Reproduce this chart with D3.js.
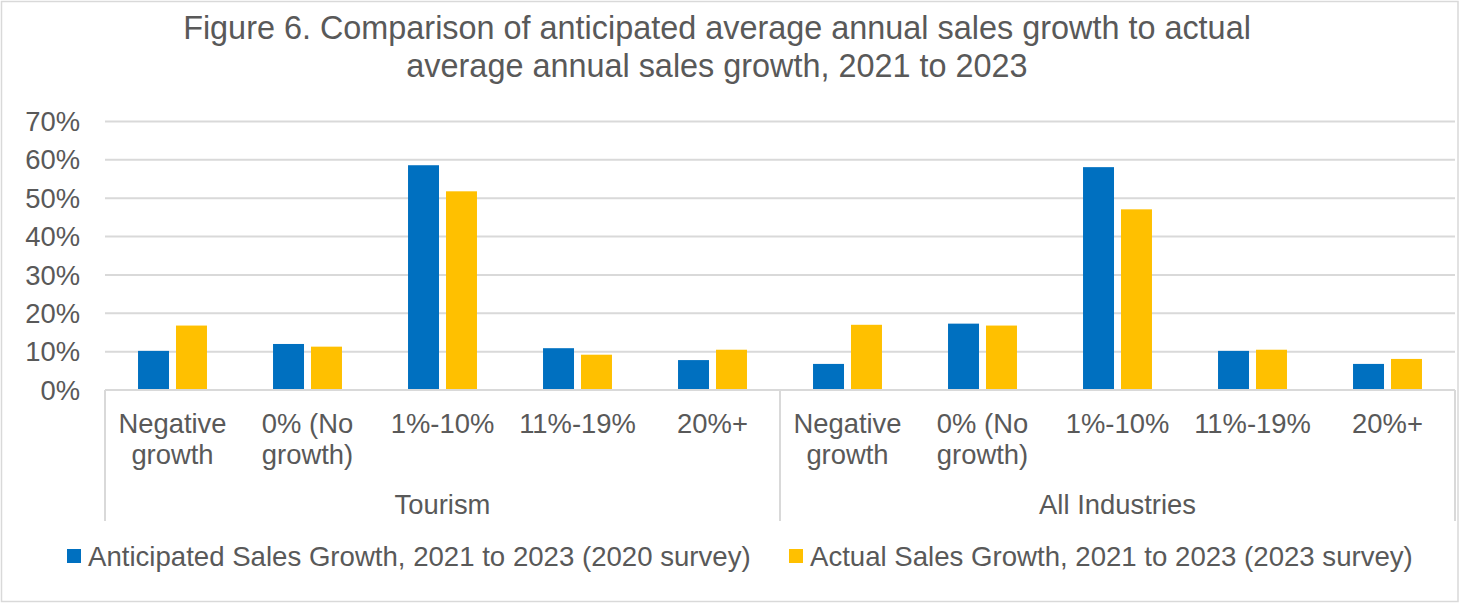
<!DOCTYPE html>
<html>
<head>
<meta charset="utf-8">
<script src="https://cdn.jsdelivr.net/npm/d3@7"></script>
<style>
  html, body { margin: 0; padding: 0; background: #fff; }
  svg { display: block; font-family: "Liberation Sans", Arial, sans-serif; }
</style>
</head>
<body>
<svg id="chart" width="1460" height="603"></svg>
<script>
const title = ["Figure 6. Comparison of anticipated average annual sales growth to actual",
               "average annual sales growth, 2021 to 2023"];
const groups = ["Tourism", "All Industries"];
const categories = ["Negative growth", "0% (No growth)", "1%-10%", "11%-19%", "20%+"];
const categoryLines = [["Negative", "growth"], ["0% (No", "growth)"], ["1%-10%"], ["11%-19%"], ["20%+"]];
const seriesNames = ["Anticipated Sales Growth, 2021 to 2023 (2020 survey)",
                     "Actual Sales Growth, 2021 to 2023 (2023 survey)"];
const anticipatedTourism = [10.2, 12.0, 58.6, 10.9, 7.8];
const actualTourism      = [16.8, 11.3, 51.8, 9.2, 10.5];
const anticipatedAll     = [6.8, 17.3, 58.1, 10.2, 6.8];
const actualAll          = [17.0, 16.8, 47.1, 10.5, 8.1];
const yTicks = [0, 10, 20, 30, 40, 50, 60, 70];
const colors = ["#0070C0", "#FFC000"];

const textColor = "#595959";
const gridColor = "#D9D9D9";

const svg = d3.select("#chart");
const W = 1460, H = 603;
const plot = { left: 105, right: 1455, top: 121.5, bottom: 390 };

// chart border
svg.append("rect").attr("x", 1.5).attr("y", 1.5).attr("width", W - 3.5).attr("height", H - 3)
  .attr("fill", "#fff").attr("stroke", gridColor).attr("stroke-width", 1.5);

// title
svg.append("text").attr("x", 717).attr("y", 39).attr("text-anchor", "middle")
  .attr("font-size", 32.4).attr("fill", textColor)
  .selectAll("tspan").data(title).join("tspan")
  .attr("x", 717).attr("dy", (d, i) => i === 0 ? 0 : 38).text(d => d);

// data rows
const rows = [];
groups.forEach((g, gi) => {
  const a = gi === 0 ? anticipatedTourism : anticipatedAll;
  const b = gi === 0 ? actualTourism : actualAll;
  categories.forEach((c, ci) => {
    rows.push({ key: g + "|" + c, group: g, cat: c, ci, values: [a[ci], b[ci]] });
  });
});

const x0 = d3.scaleBand().domain(rows.map(d => d.key)).range([plot.left, plot.right]).padding(0);
const x1 = d3.scaleBand().domain([0, 1]).range([0, x0.bandwidth()]).paddingInner(0.184).paddingOuter(0.87);
const y = d3.scaleLinear().domain([0, 70]).range([plot.bottom, plot.top]);

// gridlines
svg.append("g").selectAll("line").data(yTicks.filter(t => t > 0)).join("line")
  .attr("x1", plot.left).attr("x2", plot.right)
  .attr("y1", d => y(d)).attr("y2", d => y(d))
  .attr("stroke", gridColor).attr("stroke-width", 2);

// y tick labels
svg.append("g").selectAll("text").data(yTicks).join("text")
  .attr("x", 80).attr("y", d => y(d)).attr("dy", "0.35em")
  .attr("text-anchor", "end").attr("font-size", 27.4).attr("fill", textColor)
  .text(d => d + "%");

// bars
const bars = svg.append("g");
rows.forEach(r => {
  bars.selectAll(null).data(r.values).join("rect")
    .attr("x", (v, i) => x0(r.key) + x1(i))
    .attr("width", x1.bandwidth())
    .attr("y", v => y(v))
    .attr("height", v => y(0) - y(v))
    .attr("fill", (v, i) => colors[i]);
});

// x axis line
svg.append("line").attr("x1", plot.left).attr("x2", plot.right)
  .attr("y1", plot.bottom).attr("y2", plot.bottom)
  .attr("stroke", gridColor).attr("stroke-width", 2);

// group separator ticks
const groupEdges = [plot.left, x0(rows[5].key), plot.right];
svg.append("g").selectAll("line").data(groupEdges).join("line")
  .attr("x1", d => d).attr("x2", d => d)
  .attr("y1", plot.bottom).attr("y2", 521)
  .attr("stroke", gridColor).attr("stroke-width", 2);

// category labels
const catG = svg.append("g").attr("font-size", 27.4).attr("fill", textColor).attr("text-anchor", "middle");
rows.forEach(r => {
  const cx = x0(r.key) + x0.bandwidth() / 2;
  catG.append("text").attr("y", 433)
    .selectAll("tspan").data(categoryLines[r.ci]).join("tspan")
    .attr("x", cx).attr("dy", (d, i) => i === 0 ? 0 : 31).text(d => d);
});

// group labels
groups.forEach((g, gi) => {
  const first = x0(rows[gi * 5].key);
  const last = x0(rows[gi * 5 + 4].key) + x0.bandwidth();
  svg.append("text").attr("x", (first + last) / 2).attr("y", 514)
    .attr("text-anchor", "middle").attr("font-size", 27.4).attr("fill", textColor).text(g);
});

// legend
const legendX = [67, 789];
seriesNames.forEach((s, i) => {
  svg.append("rect").attr("x", legendX[i]).attr("y", 549).attr("width", 14).attr("height", 14).attr("fill", colors[i]);
  svg.append("text").attr("x", legendX[i] + 21).attr("y", 566)
    .attr("font-size", 27.6).attr("fill", textColor).text(s);
});
</script>
</body>
</html>
